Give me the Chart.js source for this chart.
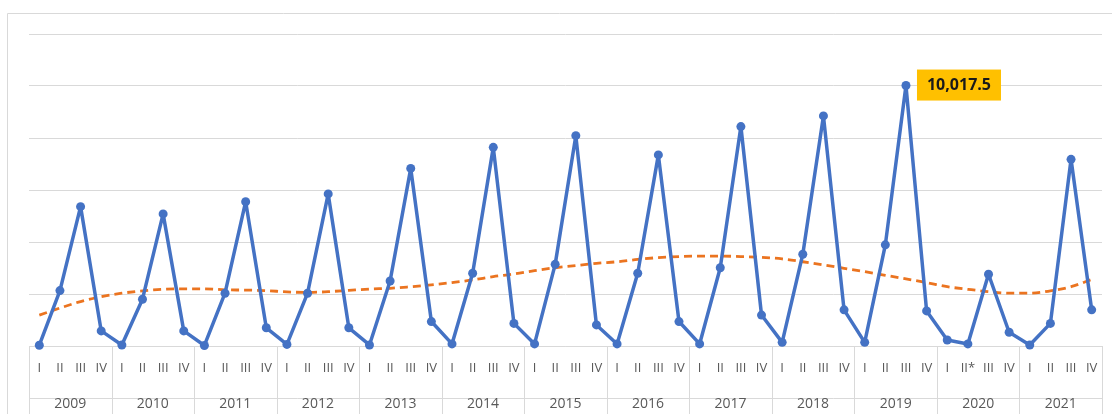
<!DOCTYPE html>
<html>
<head>
<meta charset="utf-8">
<script src="https://cdn.jsdelivr.net/npm/chart.js@4.4.1/dist/chart.umd.min.js"></script>
<style>
 html,body{margin:0;padding:0;background:#fff;}
 #wrap{width:1112px;height:414px;position:relative;}
</style>
</head>
<body>
<div id="wrap"><canvas id="chart"></canvas></div>
<script>
// DATA
const years=[2009,2010,2011,2012,2013,2014,2015,2016,2017,2018,2019,2020,2021];
const quarters=["I","II","III","IV"];
const starredQuarter={year:2020,quarter:"II",mark:"*"};

const values=[
 30,2130,5360,580,
 40,1800,5080,580,
 20,2030,5550,700,
 60,2030,5850,700,
 40,2500,6830,940,
 80,2800,7640,870,
 80,3140,8090,810,
 80,2800,7350,940,
 80,3010,8440,1190,
 140,3530,8850,1390,
 140,3890,10017.5,1350,
 230,80,2760,530,
 40,870,7180,1390
];

const trend=[
 1190,1460,1710,1900,
 2030,2120,2180,2200,
 2200,2160,2150,2130,
 2080,2060,2090,2140,
 2190,2220,2280,2350,
 2440,2540,2670,2770,
 2900,3010,3090,3180,
 3240,3330,3400,3440,
 3460,3460,3440,3410,
 3350,3240,3120,2990,
 2860,2720,2580,2440,
 2280,2180,2090,2030,
 2030,2120,2280,2560
];

const yTicks=[0,2000,4000,6000,8000,10000,12000];

// labels: one per quarter
let labels=[];
years.forEach(y=>{
 quarters.forEach(q=>{
   let t=q;
   if(y===starredQuarter.year && q===starredQuarter.quarter) t=q+starredQuarter.mark;
   labels.push(t);
 });
});

const gridColor="#d9d9d9";
const textColor="#595959";

// year row, separators and frame (drawn under the lines)
const yearAxis={
 id:"yearAxis",
 beforeDatasetsDraw(chart){
   let ctx=chart.ctx, x=chart.scales.x, area=chart.chartArea;
   let h=chart.height;
   ctx.save();
   ctx.strokeStyle=gridColor;
   ctx.lineWidth=1;
   // outer frame
   ctx.beginPath();
   ctx.moveTo(7.5,h);ctx.lineTo(7.5,13.5);ctx.lineTo(chart.width,13.5);
   ctx.stroke();
   // box lines
   let half=(x.getPixelForValue(1)-x.getPixelForValue(0))/2;
   let left=x.getPixelForValue(0)-half, right=x.getPixelForValue(labels.length-1)+half;
   ctx.beginPath();
   ctx.moveTo(left,Math.round(area.bottom)+0.5);ctx.lineTo(right,Math.round(area.bottom)+0.5);
   ctx.moveTo(left,398.5);ctx.lineTo(right,398.5);
   for(let i=0;i<=years.length;i++){
     let px=Math.round(x.getPixelForValue(i*4)-half)+0.5;
     ctx.moveTo(px,area.bottom);ctx.lineTo(px,h);
   }
   ctx.stroke();
   // year labels
   ctx.fillStyle=textColor;
   ctx.font="14px 'Open Sans', 'Liberation Sans', sans-serif";
   ctx.textAlign="center";
   ctx.textBaseline="middle";
   years.forEach((y,i)=>{
     let cx=(x.getPixelForValue(i*4)+x.getPixelForValue(i*4+3))/2;
     ctx.fillText(String(y),cx,404);
   });
   ctx.restore();
 }
};

// highlight label on the highest point
const peakLabel={
 id:"peakLabel",
 afterDatasetsDraw(chart){
   let ctx=chart.ctx;
   let meta=chart.getDatasetMeta(0);
   let data=chart.data.datasets[0].data;
   let mi=0;
   data.forEach((v,i)=>{ if(v>data[mi]) mi=i; });
   let pt=meta.data[mi];
   let txt=data[mi].toLocaleString("en-US",{minimumFractionDigits:1,maximumFractionDigits:1});
   ctx.save();
   ctx.font="bold 16px 'Open Sans', 'Liberation Sans', sans-serif";
   let w=ctx.measureText(txt).width+20;
   let bx=pt.x+11, by=pt.y-16;
   ctx.fillStyle="#ffc000";
   ctx.fillRect(bx,by,w,31);
   ctx.fillStyle="#1a1a1a";
   ctx.textAlign="center";
   ctx.textBaseline="middle";
   ctx.fillText(txt,bx+w/2,by+16);
   ctx.restore();
 }
};

new Chart(document.getElementById("chart"),{
 type:"line",
 data:{
   labels:labels,
   datasets:[
     {
       data:values,
       borderColor:"#4472c4",
       backgroundColor:"#4472c4",
       borderWidth:3.5,
       borderJoinStyle:"round",
       borderCapStyle:"round",
       pointRadius:4.5,
       pointBackgroundColor:"#4472c4",
       pointBorderWidth:0,
       tension:0,
       clip:false,
       order:1
     },
     {
       data:trend,
       borderColor:"#eb7420",
       borderWidth:2.8,
       borderDash:[8,5],
       pointRadius:0,
       fill:false,
       cubicInterpolationMode:"monotone",
       order:2
     }
   ]
 },
 options:{
   responsive:true,
   maintainAspectRatio:false,
   animation:false,
   layout:{padding:{top:34,left:29,right:10,bottom:0}},
   plugins:{legend:{display:false},tooltip:{enabled:false}},
   scales:{
     y:{
       min:yTicks[0],
       max:yTicks[yTicks.length-1],
       afterBuildTicks:(s)=>{ s.ticks=yTicks.map(v=>({value:v})); },
       ticks:{display:false},
       grid:{color:gridColor,lineWidth:1,drawTicks:false},
       border:{display:false},
       afterFit:(s)=>{ s.width=0; }
     },
     x:{
       offset:true,
       ticks:{
         autoSkip:false,
         maxRotation:0,
         minRotation:0,
         color:textColor,
         font:{family:"'Open Sans', 'Liberation Sans', sans-serif",size:13},
         padding:14
       },
       grid:{display:false,drawTicks:false},
       border:{display:false},
       afterFit:(s)=>{ s.height=68; }
     }
   }
 },
 plugins:[yearAxis,peakLabel]
});
</script>
</body>
</html>
